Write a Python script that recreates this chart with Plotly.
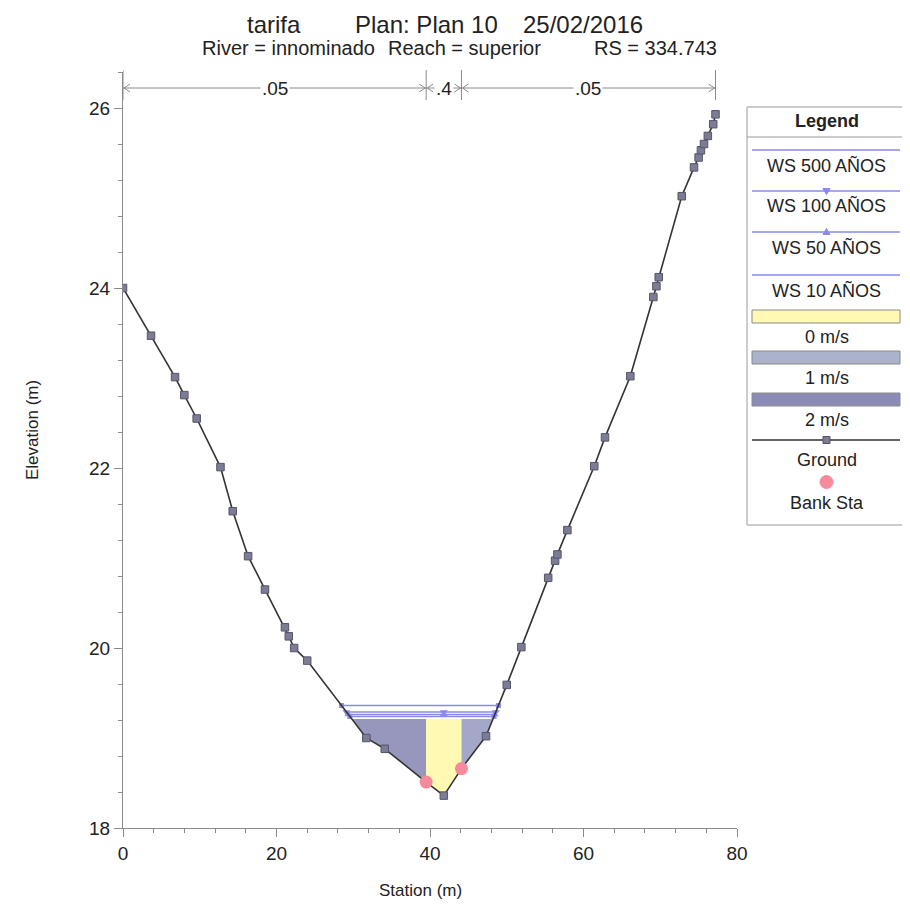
import numpy as np
import plotly.graph_objects as go

# ---------------- data ----------------
ground_station = [0.0, 3.65, 6.78, 7.99, 9.6, 12.7, 14.3, 16.3, 18.5, 21.1, 21.6, 22.3, 24.0,
                  31.7, 34.1, 39.5, 41.8, 44.1, 47.3, 50.0, 51.9, 55.4, 56.3, 56.6, 57.9,
                  61.4, 62.8, 66.1, 69.1, 69.5, 69.8, 72.8, 74.4, 75.0, 75.3, 75.7, 76.2, 76.9, 77.2]
ground_elev = [24.0, 23.47, 23.01, 22.81, 22.55, 22.01, 21.52, 21.02, 20.65, 20.23, 20.13, 20.0, 19.86,
               19.0, 18.88, 18.51, 18.36, 18.66, 19.02, 19.59, 20.01, 20.78, 20.97, 21.04, 21.31,
               22.02, 22.34, 23.02, 23.9, 24.02, 24.12, 25.02, 25.34, 25.45, 25.53, 25.6, 25.69, 25.82, 25.93]
bank_station = [39.5, 44.1]
bank_elev = [18.51, 18.66]

ws_names = ["WS 500 AÑOS", "WS 100 AÑOS", "WS 50 AÑOS", "WS 10 AÑOS"]
ws_elev = [19.36, 19.29, 19.26, 19.24]
ws_symbols = [None, "triangle-down", "triangle-up", None]

velocity_top = 19.21
subarea_colors = ["#9797be", "#fff9b4", "#a3a7c8"]   # left overbank, channel, right overbank
velocity_labels = ["0 m/s", "1 m/s", "2 m/s"]
velocity_colors = ["#fff9b4", "#aab2cc", "#8c8bb7"]
n_values = [".05", ".4", ".05"]

x_ticks = [0, 20, 40, 60, 80]
y_ticks = [18, 20, 22, 24, 26]

WS_COLOR = "#8a8ae8"
GROUND_LINE = "#333333"
GROUND_MARK = "#7c7c96"
BANK_COLOR = "#f58a9c"
FONT = "Liberation Sans, Arial, sans-serif"
TXT = "#222222"

gs = np.array(ground_station)
ge = np.array(ground_elev)


def water_edges(level):
    imin = int(np.argmin(ge))
    left = gs[0]
    for i in range(imin, 0, -1):
        if ge[i - 1] >= level:
            left = gs[i - 1] + (ge[i - 1] - level) / (ge[i - 1] - ge[i]) * (gs[i] - gs[i - 1])
            break
    right = gs[-1]
    for i in range(imin, len(gs) - 1):
        if ge[i + 1] >= level:
            right = gs[i] + (level - ge[i]) / (ge[i + 1] - ge[i]) * (gs[i + 1] - gs[i])
            break
    return left, right


def sub_polygon(a, b, level):
    le, re = water_edges(level)
    xa, xb = max(a, le), min(b, re)
    xs = [xa, xa]
    ys = [level, float(np.interp(xa, gs, ge))]
    for s, e in zip(gs, ge):
        if xa < s < xb:
            xs.append(s)
            ys.append(e)
    xs += [xb, xb, xa]
    ys += [float(np.interp(xb, gs, ge)), level, level]
    return xs, ys


fig = go.Figure()

# velocity fills
le_v, re_v = water_edges(velocity_top)
bounds = [le_v, bank_station[0], bank_station[1], re_v]
for k in range(3):
    xs, ys = sub_polygon(bounds[k], bounds[k + 1], velocity_top)
    fig.add_trace(go.Scatter(x=xs, y=ys, fill="toself", fillcolor=subarea_colors[k],
                             mode="lines", line=dict(width=0), hoverinfo="skip", showlegend=False))

# water surfaces
mid = (bank_station[0] + bank_station[1]) / 2
for name, lev, sym in zip(ws_names, ws_elev, ws_symbols):
    l, r = water_edges(lev)
    fig.add_trace(go.Scatter(x=[l, r], y=[lev, lev], mode="lines",
                             line=dict(color=WS_COLOR, width=1.5), name=name, showlegend=False))
    if sym:
        fig.add_trace(go.Scatter(x=[l, mid, r], y=[lev, lev, lev], mode="markers",
                                 marker=dict(symbol=sym, size=7, color=WS_COLOR),
                                 showlegend=False, hoverinfo="skip"))
    else:
        fig.add_trace(go.Scatter(x=[l, r], y=[lev, lev], mode="markers",
                                 marker=dict(symbol="square", size=5, color=WS_COLOR),
                                 showlegend=False, hoverinfo="skip"))

# ground
fig.add_trace(go.Scatter(x=ground_station, y=ground_elev, mode="lines+markers",
                         line=dict(color=GROUND_LINE, width=1.6),
                         marker=dict(symbol="square", size=7.5, color=GROUND_MARK,
                                     line=dict(color="#55556a", width=1)),
                         name="Ground", showlegend=False))
# bank stations
fig.add_trace(go.Scatter(x=bank_station, y=bank_elev, mode="markers",
                         marker=dict(symbol="circle", size=13, color=BANK_COLOR),
                         name="Bank Sta", showlegend=False))

# ---------------- layout geometry helpers ----------------
# the page body has an 8px margin; the figure is sized so that it ends at the window edge
OFF = 8
W = H = 910 - OFF
L, R, T, B = 123 - OFF, 173, 72 - OFF, 82
PW, PH = W - L - R, H - T - B


def px(x):
    return (x - OFF - L) / PW


def py(y):
    return (H + OFF - B - y) / PH


shapes = []
annotations = []


def text(x, y, s, size, xanchor="center", angle=0, xref="paper", bg=None, yanchor="middle"):
    d = dict(x=x, y=y, xref=xref, yref="paper", text=s, showarrow=False,
             xanchor=xanchor, yanchor=yanchor, textangle=angle,
             font=dict(size=size, color=TXT, family=FONT))
    if bg:
        d.update(bgcolor=bg, borderpad=1)
    annotations.append(d)


# Manning's n row
row_y = py(88)
GRAY = "#8a8a8a"
brk = [ground_station[0], bank_station[0], bank_station[1], ground_station[-1]]
for s in brk:
    shapes.append(dict(type="line", xref="x", yref="paper", x0=s, x1=s, y0=py(100), y1=py(70),
                       line=dict(color=GRAY, width=1)))
for k in range(3):
    a, b = brk[k], brk[k + 1]
    shapes.append(dict(type="line", xref="x", yref="paper", x0=a, x1=b, y0=row_y, y1=row_y,
                       line=dict(color=GRAY, width=1)))
    shapes.append(dict(type="path", xref="x", yref="paper", xsizemode="pixel", ysizemode="pixel",
                       xanchor=a, yanchor=row_y, path="M 7,4 L 1,0 L 7,-4",
                       line=dict(color=GRAY, width=1)))
    shapes.append(dict(type="path", xref="x", yref="paper", xsizemode="pixel", ysizemode="pixel",
                       xanchor=b, yanchor=row_y, path="M -7,4 L -1,0 L -7,-4",
                       line=dict(color=GRAY, width=1)))
    text((a + b) / 2, row_y, n_values[k], 19, xref="x", bg="white")

# Titles (kept inside the figure's top edge)
for s, x0 in zip(["tarifa", "Plan: Plan 10", "25/02/2016"], [245, 353, 521]):
    text(px(x0), py(9), s, 24, xanchor="left", yanchor="top")
for s, x0 in zip(["River = innominado", "Reach = superior", "RS = 334.743"], [200, 386, 592]):
    text(px(x0), py(48), s, 20, xanchor="left")

# axis titles
text(px(33), py(430), "Elevation (m)", 17, angle=-90)
text(px(420), py(890), "Station (m)", 17)

# ---------------- manual legend ----------------
LX0, LX1, LY0, LY1 = 747, 906, 107, 525
IX0, IX1 = 752, 900
CX = (LX0 + LX1) / 2
shapes.append(dict(type="rect", xref="paper", yref="paper", x0=px(LX0), x1=px(LX1), y0=py(LY1), y1=py(LY0),
                   line=dict(color="#9a9a9a", width=1), fillcolor="white", layer="below"))
shapes.append(dict(type="line", xref="paper", yref="paper", x0=px(LX0), x1=px(LX1), y0=py(137), y1=py(137),
                   line=dict(color="#9a9a9a", width=1)))
text(px(CX), py(121), "<b>Legend</b>", 18)


def marker_shape(kind, cx, cy, color, r):
    base = dict(xref="paper", yref="paper", xsizemode="pixel", ysizemode="pixel",
                xanchor=px(cx), yanchor=py(cy), fillcolor=color, line=dict(color=color, width=1))
    if kind == "circle":
        base.update(type="circle", x0=-r, x1=r, y0=-r, y1=r)
    elif kind == "square":
        base.update(type="rect", x0=-r, x1=r, y0=-r, y1=r, line=dict(color="#55556a", width=1))
    elif kind == "triangle-down":
        base.update(type="path", path=f"M {-r},{r * 0.7} L {r},{r * 0.7} L 0,{-r} Z")
    elif kind == "triangle-up":
        base.update(type="path", path=f"M {-r},{-r * 0.7} L {r},{-r * 0.7} L 0,{r} Z")
    shapes.append(base)


ws_line_y = [150, 191, 232, 275]
for name, sym, ly in zip(ws_names, ws_symbols, ws_line_y):
    shapes.append(dict(type="line", xref="paper", yref="paper", x0=px(IX0), x1=px(IX1), y0=py(ly), y1=py(ly),
                       line=dict(color=WS_COLOR, width=1.5)))
    if sym:
        marker_shape(sym, CX, ly, WS_COLOR, 3.5)
    text(px(CX), py(ly + 15), name, 18)

vel_rect_y = [310, 351, 393]
for lab, col, ry in zip(velocity_labels, velocity_colors, vel_rect_y):
    shapes.append(dict(type="rect", xref="paper", yref="paper", x0=px(IX0), x1=px(IX1), y0=py(ry + 13), y1=py(ry),
                       line=dict(color=GRAY, width=1), fillcolor=col))
    text(px(CX), py(ry + 27), lab, 18)

shapes.append(dict(type="line", xref="paper", yref="paper", x0=px(IX0), x1=px(IX1), y0=py(440), y1=py(440),
                   line=dict(color=GROUND_LINE, width=1.4)))
marker_shape("square", CX, 440, GROUND_MARK, 3.5)
text(px(CX), py(460), "Ground", 18)
marker_shape("circle", CX, 482, BANK_COLOR, 6.5)
text(px(CX), py(503), "Bank Sta", 18)

axis_common = dict(showline=True, linecolor=GRAY, linewidth=1, ticks="outside", ticklen=8,
                   tickcolor=GRAY, showgrid=False, zeroline=False,
                   tickfont=dict(size=19, color=TXT, family=FONT))

fig.update_layout(
    width=W, height=H,
    margin=dict(l=L, r=R, t=T, b=B, autoexpand=False),
    paper_bgcolor="white", plot_bgcolor="white",
    showlegend=False,
    xaxis=dict(range=[0, 80], tickvals=x_ticks,
               minor=dict(dtick=4, tick0=0, ticks="outside", ticklen=4, tickcolor=GRAY),
               **axis_common),
    yaxis=dict(range=[18, 26.4], tickvals=y_ticks,
               minor=dict(dtick=0.4, tick0=18, ticks="outside", ticklen=4, tickcolor=GRAY),
               **axis_common),
    shapes=shapes,
    annotations=annotations,
)

fig.write_html("out.html")
